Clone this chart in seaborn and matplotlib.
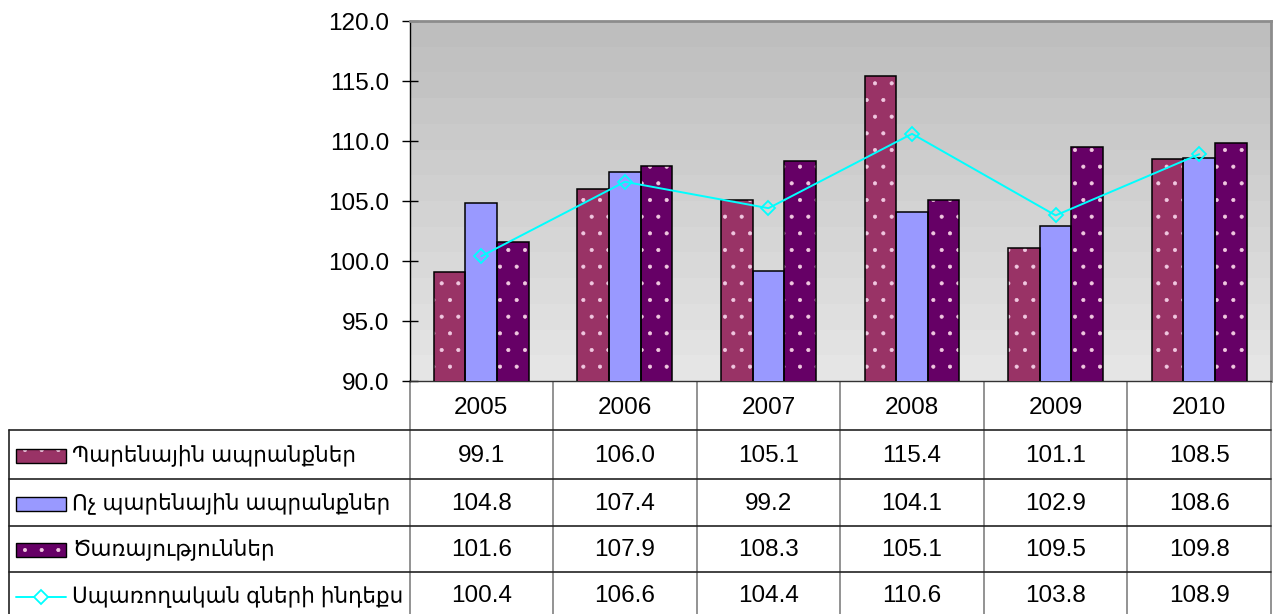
"""
plot.py
-------
Price indices by group, 2005-2010, bar + line chart with a data table.
"""

import matplotlib
matplotlib.use("Agg")
import matplotlib.pyplot as plt
from matplotlib.patches import Rectangle
from matplotlib.lines import Line2D
import seaborn as sns
import numpy as np
import pandas as pd

years = ["2005", "2006", "2007", "2008", "2009", "2010"]
food = [99.1, 106.0, 105.1, 115.4, 101.1, 108.5]
nonfood = [104.8, 107.4, 99.2, 104.1, 102.9, 108.6]
services = [101.6, 107.9, 108.3, 105.1, 109.5, 109.8]
cpi = [100.4, 106.6, 104.4, 110.6, 103.8, 108.9]

series_names = ["Պարենային ապրանքներ", "Ոչ պարենային ապրանքներ",
                "Ծառայություններ", "Սպառողական գների ինդեքս"]
bar_colors = ["#993366", "#9999FF", "#660066"]
bar_hatch = [".", "", "."]
line_color = "#00FFFF"
fonts = ["Liberation Sans", "DejaVu Sans"]

sns.set_theme(style="white")
plt.rcParams["font.family"] = fonts
plt.rcParams["text.color"] = "black"
plt.rcParams["ytick.color"] = "black"
plt.rcParams["ytick.labelcolor"] = "black"
plt.rcParams["hatch.linewidth"] = 0.5

W, H = 1275, 614
fig = plt.figure(figsize=(W / 100, H / 100), dpi=100)

# plot area in pixels
px0, px1, py0, py1 = 409.5, 1271, 21, 381
ax = fig.add_axes([px0 / W, 1 - py1 / H, (px1 - px0) / W, (py1 - py0) / H])

# ── bars ─────────────────────────────────────────────────────────────
df = pd.DataFrame({
    "year": years * 3,
    "value": food + nonfood + services,
    "series": [series_names[0]] * 6 + [series_names[1]] * 6
              + [series_names[2]] * 6,
})
sns.barplot(data=df, x="year", y="value", hue="series",
            hue_order=series_names[:3], palette=bar_colors, saturation=1,
            width=0.66, legend=False, ax=ax, zorder=3)

for cont, hatch in zip(ax.containers, bar_hatch):
    for p in cont.patches:
        p.set_edgecolor("#F0C8E0")
        p.set_hatch(hatch)
        p.set_linewidth(0)
        ax.add_patch(Rectangle(p.get_xy(), p.get_width(), p.get_height(),
                               fill=False, ec="black", lw=1.1, zorder=4))

# ── CPI line ─────────────────────────────────────────────────────────
sns.lineplot(x=np.arange(len(years)), y=cpi, ax=ax, color=line_color,
             lw=1.4, marker="D", markersize=7, markerfacecolor="none",
             markeredgecolor=line_color, markeredgewidth=1.3, zorder=5)

ax.set_xlim(-0.5, len(years) - 0.5)
ax.set_ylim(90, 120)
ax.set_yticks(np.arange(90, 121, 5))
ax.set_yticklabels([f"{v:.1f}" for v in np.arange(90, 121, 5)], fontsize=17.5)
ax.set_xticks([])
ax.set_xlabel("")
ax.set_ylabel("")
ax.tick_params(axis="y", direction="inout", length=11, width=1,
               color="black", labelcolor="black", pad=9, left=True)

# gradient background, darker at the top
grad = np.linspace(0.745, 0.895, 14).reshape(-1, 1)
ax.imshow(grad, cmap="gray", vmin=0, vmax=1, aspect="auto",
          extent=[0, 1, 0, 1], transform=ax.transAxes, zorder=0,
          interpolation="nearest")
ax.set_facecolor("none")
for side in ["top", "right"]:
    ax.spines[side].set_color("#8C8C8C")
    ax.spines[side].set_linewidth(2)
ax.spines["left"].set_color("black")
ax.spines["left"].set_linewidth(1)
ax.spines["bottom"].set_color("#333333")
ax.spines["bottom"].set_linewidth(1)

# ── data table ───────────────────────────────────────────────────────
tab = fig.add_axes([0, 0, 1, 1], zorder=-1)
tab.set_xlim(0, W)
tab.set_ylim(H, 0)
tab.axis("off")

col_w = (px1 - px0) / len(years)
col_x = [px0 + i * col_w for i in range(len(years) + 1)]
row_y = [py1, 430, 479, 526, 572, 619]
left_x = 9

for x in col_x:
    tab.plot([x, x], [py1, H], color="#808080", lw=1.2)
tab.plot([left_x, left_x], [row_y[1], H], color="#222222", lw=1.2)
for y in row_y[1:5]:
    tab.plot([left_x, px1], [y, y], color="#222222", lw=1.2)

for i, yr in enumerate(years):
    tab.text(col_x[i] + col_w / 2, (row_y[0] + row_y[1]) / 2 + 2, yr,
             ha="center", va="center", fontsize=17.5, color="black")

table_rows = [food, nonfood, services, cpi]
for r, vals in enumerate(table_rows):
    yc = (row_y[r + 1] + row_y[r + 2]) / 2 + 1
    for i, v in enumerate(vals):
        tab.text(col_x[i] + col_w / 2, yc, f"{v:.1f}",
                 ha="center", va="center", fontsize=17.5, color="black")
    # legend key
    if r < 3:
        tab.add_patch(Rectangle((16, yc - 7), 50, 14, fc=bar_colors[r],
                                ec="#F0C8E0", hatch=bar_hatch[r], lw=0))
        tab.add_patch(Rectangle((16, yc - 7), 50, 14, fill=False,
                                ec="black", lw=1))
    else:
        tab.add_line(Line2D([16, 66], [yc, yc], color=line_color, lw=1.4))
        tab.add_line(Line2D([41], [yc], marker="D", markersize=7,
                            markerfacecolor="white",
                            markeredgecolor=line_color,
                            markeredgewidth=1.3))
    tab.text(72, yc, series_names[r], ha="left", va="center", fontsize=15.5,
             color="black")

plt.savefig("out.png", dpi=100)
plt.close("all")
